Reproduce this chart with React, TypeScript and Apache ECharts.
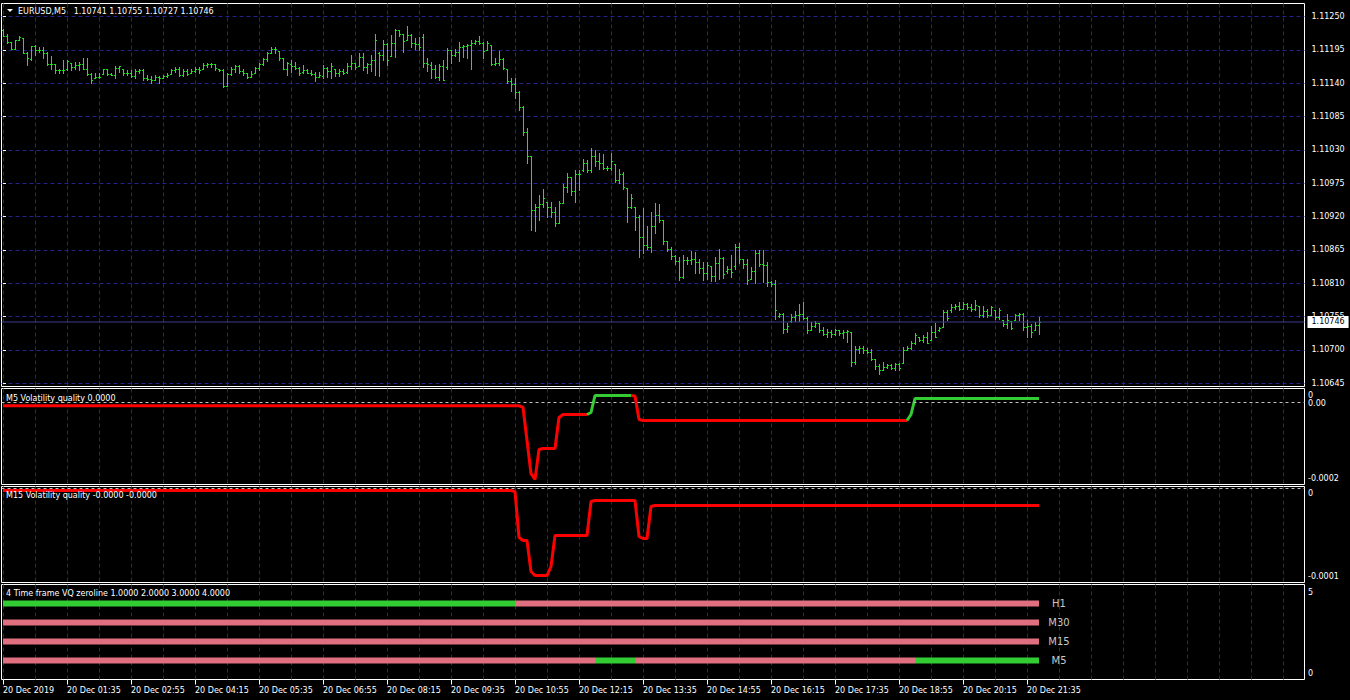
import React, { useEffect, useRef } from "react";
import * as echarts from "echarts";

const FONT = "DejaVu Sans";
const GRID_COLOR = "#23238c";
const BAR_COLOR = "#1ee61e";
const VQ_RED = "#ff0000";
const VQ_GREEN = "#33cc33";
const TF_PINK = "#e0707f";
const TF_GREEN = "#32cd32";
const BID_COLOR = "#3c3c8c";

const symbolName = "EURUSD,M5";
const timeLabels = [
  "20 Dec 2019", "20 Dec 01:35", "20 Dec 02:55", "20 Dec 04:15", "20 Dec 05:35", "20 Dec 06:55",
  "20 Dec 08:15", "20 Dec 09:35", "20 Dec 10:55", "20 Dec 12:15", "20 Dec 13:35", "20 Dec 14:55",
  "20 Dec 16:15", "20 Dec 17:35", "20 Dec 18:55", "20 Dec 20:15", "20 Dec 21:35",
];
const priceTicks = [1.10645, 1.107, 1.10755, 1.1081, 1.10865, 1.1092, 1.10975, 1.1103, 1.11085, 1.1114, 1.11195, 1.1125];

// [open, high, low, close] per 5-minute bar
const bars: number[][] = [
  [1.11227,1.11229,1.11218,1.11218],[1.11218,1.11222,1.11207,1.11208],[1.11208,1.11208,1.11197,1.11197],[1.11197,1.11212,1.11197,1.11212],
  [1.11212,1.11218,1.11212,1.11216],[1.11214,1.11214,1.1119,1.1119],[1.1119,1.11192,1.1117,1.11182],[1.1118,1.11202,1.11179,1.11201],
  [1.11201,1.11203,1.11187,1.11194],[1.11194,1.11199,1.11192,1.11194],[1.11194,1.11199,1.11181,1.11189],[1.11189,1.11192,1.1117,1.11172],
  [1.11172,1.11185,1.11163,1.11171],[1.11171,1.11171,1.11157,1.11162],[1.11161,1.11163,1.11156,1.11162],[1.11162,1.11178,1.11156,1.11162],
  [1.11163,1.11178,1.11162,1.11176],[1.11174,1.11174,1.11162,1.11166],[1.11166,1.11175,1.11164,1.1117],[1.1117,1.11175,1.11162,1.11172],
  [1.11172,1.11182,1.11163,1.11164],[1.11164,1.11182,1.11153,1.11155],[1.11155,1.11156,1.11141,1.11146],[1.11148,1.11157,1.11148,1.11151],
  [1.11151,1.11156,1.11148,1.1115],[1.11155,1.11164,1.11155,1.11163],[1.11163,1.11164,1.11153,1.11155],[1.11155,1.11156,1.11153,1.11154],
  [1.11154,1.11169,1.11149,1.11165],[1.11165,1.11169,1.11159,1.11168],[1.11164,1.11164,1.11153,1.11156],[1.11156,1.11162,1.11153,1.11157],
  [1.11157,1.11162,1.11151,1.11152],[1.11152,1.11164,1.11149,1.1116],[1.1116,1.11164,1.11156,1.11162],[1.11162,1.11164,1.11146,1.11148],
  [1.11148,1.11153,1.11145,1.11147],[1.11147,1.11152,1.11141,1.11146],[1.11146,1.11153,1.11145,1.11151],[1.11151,1.11152,1.11141,1.11149],
  [1.11149,1.11153,1.11149,1.11152],[1.11152,1.11157,1.11151,1.11154],[1.11155,1.11164,1.11155,1.11161],[1.11161,1.11167,1.11159,1.11164],
  [1.11164,1.11167,1.11152,1.11153],[1.11153,1.11163,1.11152,1.1116],[1.1116,1.11163,1.11154,1.11155],[1.11157,1.11164,1.11157,1.1116],
  [1.1116,1.11167,1.11158,1.11163],[1.11163,1.11167,1.11157,1.11162],[1.11163,1.11174,1.11163,1.1117],[1.1117,1.11174,1.11166,1.11172],
  [1.11172,1.11174,1.11167,1.11171],[1.11171,1.11171,1.11162,1.11165],[1.11164,1.11164,1.1116,1.11161],[1.11161,1.11164,1.11134,1.11135],
  [1.11135,1.11157,1.11135,1.11155],[1.11155,1.11167,1.11153,1.11163],[1.11163,1.1117,1.11159,1.11168],[1.11168,1.1117,1.11157,1.1116],
  [1.1116,1.11163,1.11153,1.11157],[1.11156,1.11157,1.11149,1.11151],[1.11151,1.1116,1.11151,1.11155],[1.11156,1.11167,1.11156,1.11165],
  [1.11165,1.11173,1.11162,1.11171],[1.11171,1.11182,1.1117,1.1118],[1.1118,1.11192,1.11177,1.11189],[1.11189,1.11199,1.11189,1.11197],
  [1.11197,1.112,1.11189,1.11196],[1.11193,1.11193,1.11179,1.11182],[1.11181,1.11181,1.11163,1.11163],[1.11164,1.11175,1.11153,1.11173],
  [1.11172,1.11179,1.11159,1.11168],[1.11168,1.11175,1.11163,1.11165],[1.11165,1.11167,1.11154,1.11157],[1.11158,1.1117,1.11156,1.11162],
  [1.11162,1.11164,1.11156,1.11157],[1.11157,1.11162,1.11153,1.11155],[1.11155,1.11159,1.11143,1.11151],[1.11151,1.11159,1.11151,1.11154],
  [1.11152,1.1117,1.11148,1.11165],[1.11165,1.11167,1.11151,1.1116],[1.1116,1.11174,1.11148,1.11168],[1.11164,1.11164,1.11152,1.11156],
  [1.11156,1.11164,1.11152,1.1116],[1.1116,1.11163,1.11155,1.11157],[1.11158,1.11174,1.11157,1.11169],[1.11169,1.11186,1.11164,1.11174],
  [1.11174,1.11174,1.11164,1.11166],[1.11168,1.11189,1.11168,1.11184],[1.11184,1.11189,1.11162,1.11166],[1.11166,1.11174,1.11157,1.11171],
  [1.11171,1.11186,1.1116,1.11179],[1.11179,1.11221,1.11153,1.11211],[1.1119,1.11192,1.11152,1.11186],[1.11186,1.11211,1.11178,1.11204],
  [1.11204,1.11206,1.1117,1.11179],[1.11185,1.11219,1.11185,1.11206],[1.11206,1.11229,1.11184,1.11227],[1.11227,1.11228,1.11218,1.11222],
  [1.11221,1.11221,1.11192,1.1121],[1.11211,1.11234,1.11211,1.1122],[1.1122,1.11221,1.112,1.11206],[1.11206,1.11214,1.11197,1.11204],
  [1.11205,1.11216,1.11194,1.112],[1.11217,1.11222,1.11166,1.11173],[1.11173,1.11182,1.1116,1.11171],[1.1117,1.11175,1.11148,1.11164],
  [1.11164,1.1117,1.11148,1.11151],[1.11151,1.11171,1.11146,1.11168],[1.11168,1.11178,1.11145,1.11146],[1.11166,1.11198,1.11163,1.11194],
  [1.11194,1.11194,1.11173,1.11186],[1.11186,1.11196,1.11185,1.11191],[1.11191,1.11208,1.11177,1.112],[1.112,1.11203,1.11184,1.11202],
  [1.11201,1.11204,1.11182,1.11203],[1.11203,1.11211,1.11163,1.11206],[1.11206,1.11212,1.11204,1.11209],[1.11209,1.11218,1.11204,1.11206],
  [1.11206,1.11208,1.11182,1.11193],[1.11194,1.1121,1.11194,1.11206],[1.11203,1.11203,1.1117,1.11172],[1.11172,1.11181,1.1117,1.11174],
  [1.11174,1.11193,1.1117,1.1118],[1.1118,1.11182,1.11164,1.11165],[1.11164,1.11164,1.1114,1.11143],[1.11143,1.11148,1.11127,1.11138],
  [1.11138,1.11149,1.11116,1.11125],[1.11125,1.11127,1.11095,1.111],[1.111,1.11102,1.11055,1.1106],[1.1106,1.11066,1.11008,1.1102],
  [1.1102,1.1102,1.10897,1.10931],[1.10931,1.10941,1.10896,1.10935],[1.10935,1.10956,1.10915,1.10941],[1.10941,1.10966,1.10936,1.1095],
  [1.10944,1.10944,1.1092,1.10935],[1.10935,1.10944,1.10919,1.10927],[1.10927,1.10936,1.10904,1.1091],[1.1091,1.10946,1.10909,1.10942],
  [1.10942,1.10974,1.10942,1.10968],[1.10968,1.10992,1.1096,1.10985],[1.10985,1.10985,1.10955,1.10962],[1.10962,1.10996,1.10944,1.1099],
  [1.1099,1.10996,1.10964,1.10991],[1.10996,1.11015,1.10995,1.11008],[1.11008,1.11014,1.10993,1.10996],[1.10996,1.11033,1.10993,1.1102],
  [1.1102,1.11029,1.11004,1.11012],[1.11012,1.11025,1.10999,1.11008],[1.11008,1.11024,1.10999,1.11],[1.11,1.11004,1.10996,1.11],
  [1.11,1.11025,1.10996,1.11012],[1.11007,1.11007,1.10977,1.1098],[1.1098,1.10999,1.10975,1.1099],[1.1099,1.10993,1.10966,1.10968],
  [1.10967,1.10967,1.10911,1.10935],[1.10935,1.10958,1.10934,1.1095],[1.10936,1.10936,1.10898,1.1092],[1.1092,1.10922,1.10854,1.10887],
  [1.10887,1.10934,1.1086,1.10873],[1.10873,1.10905,1.10867,1.1087],[1.1087,1.10927,1.10861,1.10905],[1.10905,1.10942,1.10893,1.10922],
  [1.10922,1.10941,1.10911,1.10915],[1.10915,1.10915,1.10875,1.1088],[1.1088,1.1088,1.10863,1.10867],[1.10867,1.10869,1.1085,1.10855],
  [1.10855,1.10856,1.10842,1.10846],[1.10846,1.10853,1.10816,1.1082],[1.1082,1.10856,1.10819,1.10849],[1.10849,1.10854,1.10842,1.10848],
  [1.10848,1.10863,1.10841,1.1085],[1.1085,1.10861,1.10827,1.10845],[1.10845,1.1085,1.10827,1.10835],[1.10835,1.10845,1.10816,1.10827],
  [1.10827,1.10845,1.10817,1.1084],[1.10838,1.10838,1.10813,1.10822],[1.10822,1.10853,1.10813,1.10843],[1.10843,1.10867,1.10817,1.10852],
  [1.10852,1.10853,1.10819,1.10825],[1.1083,1.10839,1.10827,1.10834],[1.10834,1.10856,1.1082,1.10828],[1.10838,1.10875,1.10834,1.1087],
  [1.1087,1.10876,1.10843,1.1085],[1.1085,1.1085,1.10835,1.10842],[1.10842,1.1085,1.10809,1.10816],[1.10817,1.10836,1.10817,1.1083],
  [1.1083,1.10864,1.1081,1.1086],[1.1086,1.10865,1.10839,1.10842],[1.10842,1.10864,1.10812,1.1084],[1.1084,1.10845,1.10806,1.10812],
  [1.10812,1.10814,1.10805,1.10808],[1.10808,1.10816,1.10751,1.10765],[1.10756,1.10761,1.10754,1.1076],[1.1076,1.10761,1.10728,1.10735],
  [1.10735,1.10744,1.10729,1.1074],[1.10748,1.1076,1.10746,1.10755],[1.10755,1.10764,1.10747,1.10757],[1.10757,1.10776,1.10747,1.1076],
  [1.1076,1.10779,1.10751,1.10752],[1.10752,1.10754,1.10728,1.10733],[1.10733,1.10746,1.10732,1.1074],[1.1074,1.10747,1.10738,1.10745],
  [1.10744,1.10744,1.10729,1.10732],[1.10732,1.10738,1.10725,1.10727],[1.10727,1.10735,1.10722,1.1073],[1.1073,1.10732,1.10722,1.10726],
  [1.10726,1.10735,1.10725,1.10733],[1.10733,1.10733,1.10724,1.10728],[1.10728,1.10733,1.1072,1.1073],[1.1073,1.10732,1.10713,1.10731],
  [1.10729,1.10729,1.10674,1.1068],[1.1068,1.10706,1.10677,1.10702],[1.10702,1.10707,1.10695,1.10703],[1.10703,1.10707,1.10695,1.107],
  [1.107,1.10703,1.10695,1.10697],[1.10697,1.10702,1.10684,1.10685],[1.10685,1.10685,1.10669,1.10674],[1.10674,1.10677,1.10661,1.10667],
  [1.10667,1.1068,1.10666,1.10672],[1.10672,1.10677,1.1067,1.10675],[1.10675,1.10677,1.10669,1.1067],[1.1067,1.10678,1.10667,1.10676],
  [1.10676,1.10678,1.10667,1.1067],[1.10678,1.10705,1.10678,1.107],[1.107,1.10707,1.10699,1.10703],[1.10703,1.10714,1.10702,1.10712],
  [1.10712,1.10728,1.10709,1.10725],[1.10722,1.10722,1.10714,1.10716],[1.10716,1.10725,1.10713,1.10722],[1.10722,1.10729,1.10711,1.10712],
  [1.10716,1.1074,1.10716,1.1073],[1.1073,1.10744,1.10721,1.10722],[1.10733,1.10738,1.10731,1.10736],[1.10738,1.10765,1.10738,1.10762],
  [1.10762,1.10765,1.1075,1.10752],[1.10765,1.10775,1.10762,1.1077],[1.1077,1.10776,1.10768,1.10772],[1.10772,1.10779,1.10766,1.10768],
  [1.10768,1.10779,1.10768,1.10775],[1.10775,1.10777,1.10768,1.1077],[1.1077,1.10776,1.10764,1.10768],[1.10768,1.10783,1.10766,1.10774],
  [1.10773,1.10773,1.10754,1.10757],[1.10757,1.10772,1.10755,1.10764],[1.10764,1.10768,1.10755,1.10757],[1.10757,1.10773,1.10757,1.1077],
  [1.10765,1.10765,1.10751,1.10755],[1.10755,1.10769,1.10751,1.10766],[1.1075,1.1075,1.10739,1.10742],[1.10742,1.1076,1.10736,1.1075],
  [1.10747,1.10747,1.10735,1.10736],[1.10749,1.1076,1.10749,1.10758],[1.10758,1.10761,1.10749,1.1076],[1.1076,1.10761,1.10733,1.10738],
  [1.10738,1.1075,1.10721,1.1074],[1.1074,1.10742,1.10721,1.1073],[1.10733,1.10746,1.10733,1.10741],[1.10741,1.10755,1.10727,1.10746],
];

// Volatility quality on M5: [bar index, value] at each turn of the line
const m5Red1 = [[0,-0.0000083],[129,-0.0000083],[130,-0.0000118],[131,-0.000095],[132,-0.000178],[133,-0.0001925],[134,-0.0001175],[135,-0.000115],[138,-0.000115],[139,-0.0000375],[140,-0.00003],[146,-0.00003]];
const m5Green1 = [[146,-0.00003],[147,-0.000025],[148,0.0000175],[157,0.0000175]];
const m5Red2 = [[157,0.0000175],[158,0.0000165],[159,-0.0000425],[160,-0.000045],[226,-0.000045]];
const m5Green2 = [[226,-0.000045],[227,-0.00003],[228,0.00001],[259,0.00001]];

// Volatility quality on M15
const m15Red = [[0,-0.000003],[127,-0.000003],[128,-0.0000043],[129,-0.0000618],[130,-0.0000655],[131,-0.0000655],[132,-0.0001043],[133,-0.0001093],[136,-0.0001093],[137,-0.000098],[138,-0.0000593],[146,-0.0000593],[147,-0.0000168],[148,-0.0000155],[158,-0.0000155],[159,-0.0000605],[160,-0.000063],[161,-0.000063],[162,-0.000023],[163,-0.0000218],[259,-0.0000218]];

// 4 time frame panel
const tfNames = ["H1", "M30", "M15", "M5"];
const tfLevels = [4, 3, 2, 1];
const tfSwitches: [number, string][][] = [
  [[0, "up"], [128, "down"]],
  [[0, "down"]],
  [[0, "down"]],
  [[0, "down"], [148, "up"], [158, "down"], [228, "up"]],
];

const m5Title = "M5 Volatility quality 0.0000";
const m15Title = "M15 Volatility quality -0.0000 -0.0000";
const tfTitle = "4 Time frame VQ zeroline 1.0000 2.0000 3.0000 4.0000";
const m5Scale = ["0", "0.00", "-0.0002"];
const m15Scale = ["0", "-0.0001"];
const tfScale = ["5", "0"];

const X_MIN = -0.375;
const X_MAX = 325.375;
const gridTicks = Array.from({ length: 41 }, (_, k) => k * 8);
const labelTicks = timeLabels.map((_, k) => k * 16);

function gridX(gridIndex: number) {
  return {
    type: "value", gridIndex, min: X_MIN, max: X_MAX, position: "top",
    axisLine: { show: false, onZero: false },
    axisTick: { show: false, customValues: gridTicks },
    axisLabel: { show: false },
    splitLine: { show: true, lineStyle: { color: GRID_COLOR, type: [4, 3], width: 1 } },
  };
}

function txt(text: string, x: number, y: number, size = 8, fill = "#ffffff") {
  return {
    type: "text", x, y, z: 100,
    style: { text, fill, font: `${size}px "${FONT}"`, align: "left", verticalAlign: "middle", textAlign: "left", textVerticalAlign: "middle" },
  };
}

export default function App() {
  const ref = useRef<HTMLDivElement>(null);
  useEffect(() => {
    const chart = echarts.init(ref.current!, null, { renderer: "svg" });
    const last = bars[bars.length - 1];
    const lastIdx = bars.length - 1;
    const title = `${symbolName}   ${last.map((v) => v.toFixed(5)).join(" ")}`;

    const gridBase = { left: 1.5, right: 45.5, show: true, borderColor: "#ffffff", borderWidth: 1, backgroundColor: "transparent", containLabel: false, outerBoundsMode: "none" };

    const tfSeries: any[] = [];
    tfSwitches.forEach((sw, k) => {
      sw.forEach((s, j) => {
        const start = s[0];
        const end = j + 1 < sw.length ? sw[j + 1][0] : lastIdx;
        const isLast = j === sw.length - 1;
        tfSeries.push({
          type: "line", name: tfNames[k], xAxisIndex: 3, yAxisIndex: 3, silent: true,
          showSymbol: false, symbol: "none",
          data: [[start, tfLevels[k]], [end, tfLevels[k]]],
          lineStyle: { color: s[1] === "up" ? TF_GREEN : TF_PINK, width: 6, cap: "butt" },
          endLabel: isLast ? { show: true, formatter: tfNames[k], color: "#c8c8c8", fontSize: 10, fontFamily: FONT, distance: 20, align: "center" } : undefined,
        });
      });
    });

    const vq = (data: number[][], color: string, xi: number, extra: any = {}) => ({
      type: "line", xAxisIndex: xi, yAxisIndex: xi, silent: true, showSymbol: false, symbol: "none",
      data, lineStyle: { color, width: 3 }, ...extra,
    });
    const zeroLine = () => ({
      silent: true, symbol: ["none", "none"], label: { show: false },
      lineStyle: { color: "#c0c0c0", type: [3, 3], width: 1 }, data: [{ yAxis: 0 }],
    });

    const option: any = {
      animation: false,
      backgroundColor: "#000000",
      textStyle: { fontFamily: FONT },
      grid: [
        { ...gridBase, top: 3.5, height: 383 },
        { ...gridBase, top: 388.5, height: 96 },
        { ...gridBase, top: 486.5, height: 96 },
        { ...gridBase, top: 584.5, height: 95 },
      ],
      xAxis: [
        gridX(0), gridX(1), gridX(2),
        {
          type: "value", gridIndex: 3, min: X_MIN, max: X_MAX, position: "bottom",
          axisLine: { show: false, onZero: false },
          axisTick: { show: true, customValues: labelTicks, length: 5, lineStyle: { color: "#ffffff" } },
          axisLabel: {
            customValues: labelTicks, formatter: (v: number) => timeLabels[Math.round(v / 16)] ?? "",
            align: "left", color: "#ffffff", fontSize: 8, fontFamily: FONT, margin: 7,
          },
          splitLine: { show: false },
        },
        gridX(3),
      ],
      yAxis: [
        {
          type: "value", gridIndex: 0, position: "right", min: 1.1063955, max: 1.112715,
          axisLine: { show: false },
          axisTick: { show: true, customValues: priceTicks, length: 3, lineStyle: { color: "#ffffff" } },
          axisLabel: { customValues: priceTicks, formatter: (v: number) => v.toFixed(5), color: "#ffffff", fontSize: 8, fontFamily: FONT, margin: 7 },
          splitLine: { show: true, lineStyle: { color: GRID_COLOR, type: [4, 3], width: 1 } },
        },
        { type: "value", gridIndex: 1, min: -0.000205, max: 0.000035, axisLine: { show: false }, axisTick: { show: false }, axisLabel: { show: false }, splitLine: { show: false } },
        { type: "value", gridIndex: 2, min: -0.000118, max: 0.000002, axisLine: { show: false }, axisTick: { show: false }, axisLabel: { show: false }, splitLine: { show: false } },
        { type: "value", gridIndex: 3, min: 0, max: 5, axisLine: { show: false }, axisTick: { show: false }, axisLabel: { show: false }, splitLine: { show: false } },
      ],
      series: [
        {
          type: "line", xAxisIndex: 0, yAxisIndex: 0, silent: true, clip: false, showSymbol: false, symbol: "none",
          data: [[X_MIN, last[3]], [X_MAX, last[3]]],
          lineStyle: { color: BID_COLOR, width: 1 },
          endLabel: {
            show: true, formatter: last[3].toFixed(5), distance: 3, align: "left",
            color: "#000000", backgroundColor: "#ffffff", padding: [2, 4, 2, 4], fontSize: 8, fontFamily: FONT,
          },
        },
        {
          type: "custom", xAxisIndex: 0, yAxisIndex: 0, silent: true, clip: true,
          data: bars.map((b, i) => [i, b[0], b[1], b[2], b[3]]),
          encode: { x: 0, y: [1, 2, 3, 4] },
          renderItem: (params: any, api: any) => {
            const i = api.value(0);
            const X = Math.round(api.coord([i, api.value(1)])[0]);
            const yO = Math.round(api.coord([i, api.value(1)])[1]);
            const yH = Math.round(api.coord([i, api.value(2)])[1]);
            const yL = Math.round(api.coord([i, api.value(3)])[1]);
            const yC = Math.round(api.coord([i, api.value(4)])[1]);
            return {
              type: "group",
              children: [
                { type: "rect", shape: { x: X, y: yH, width: 1, height: Math.max(1, yL - yH + 1) }, style: { fill: BAR_COLOR } },
                { type: "rect", shape: { x: X - 1, y: yO, width: 1, height: 1 }, style: { fill: BAR_COLOR } },
                { type: "rect", shape: { x: X + 1, y: yC, width: 1, height: 1 }, style: { fill: BAR_COLOR } },
              ],
            };
          },
        },
        vq(m5Red1, VQ_RED, 1, { markLine: zeroLine() }),
        vq(m5Green1, VQ_GREEN, 1),
        vq(m5Red2, VQ_RED, 1),
        vq(m5Green2, VQ_GREEN, 1),
        vq(m15Red, VQ_RED, 2, { markLine: zeroLine() }),
        ...tfSeries,
      ],
      graphic: [
        { type: "polygon", z: 100, shape: { points: [[7, 9], [13, 9], [10, 12]] }, style: { fill: "#ffffff" } },
        txt(title, 18, 11),
        txt(m5Title, 6, 398),
        txt(m15Title, 6, 495),
        txt(tfTitle, 6, 593),
        txt(m5Scale[0], 1308, 395),
        txt(m5Scale[1], 1308, 403),
        txt(m5Scale[2], 1308, 478),
        txt(m15Scale[0], 1308, 493),
        txt(m15Scale[1], 1308, 576),
        txt(tfScale[0], 1308, 592),
        txt(tfScale[1], 1308, 673),
      ],
    };
    chart.setOption(option);
    return () => chart.dispose();
  }, []);
  return <div ref={ref} style={{ position: "absolute", left: 0, top: 0, width: 1350, height: 700, background: "#000" }} />;
}
